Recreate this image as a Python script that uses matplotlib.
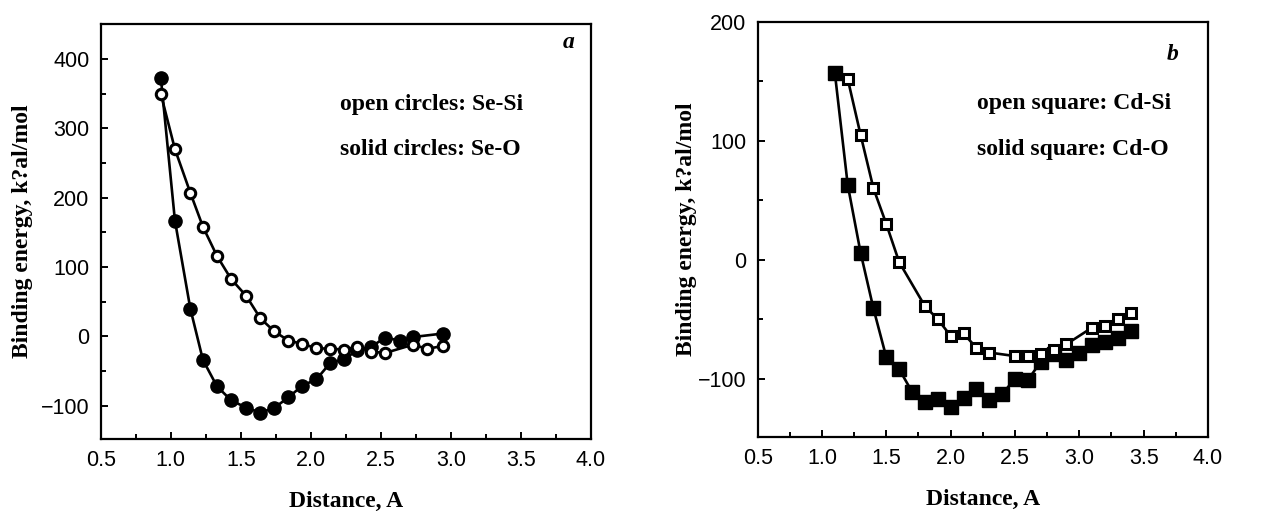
import matplotlib
matplotlib.use("Agg")
import matplotlib.pyplot as plt
from matplotlib.ticker import MultipleLocator

# panel a: Se-Si (open circles), Se-O (solid circles)
se_si_x = [0.93, 1.03, 1.14, 1.23, 1.33, 1.43, 1.54, 1.64, 1.74, 1.84,
           1.94, 2.04, 2.14, 2.24, 2.33, 2.43, 2.53, 2.73, 2.83, 2.94]
se_si_y = [349, 270, 207, 158, 116, 83, 58, 26, 7, -6,
           -11, -17, -18, -19, -15, -22, -24, -12, -18, -14]
se_o_x = [0.93, 1.03, 1.14, 1.23, 1.33, 1.43, 1.54, 1.64, 1.74, 1.84,
          1.94, 2.04, 2.14, 2.24, 2.33, 2.43, 2.53, 2.64, 2.73, 2.94]
se_o_y = [372, 167, 40, -34, -72, -92, -103, -110, -103, -88,
          -71, -62, -38, -33, -20, -15, -2, -6, -1, 4]

# panel b: Cd-Si (open squares), Cd-O (solid squares)
cd_si_x = [1.2, 1.3, 1.4, 1.5, 1.6, 1.8, 1.9, 2.0, 2.1, 2.2,
           2.3, 2.5, 2.6, 2.7, 2.8, 2.9, 3.1, 3.2, 3.3, 3.4]
cd_si_y = [152, 105, 60, 30, -2, -39, -50, -64, -62, -74,
           -78, -81, -81, -79, -76, -71, -57, -56, -50, -45]
cd_o_x = [1.1, 1.2, 1.3, 1.4, 1.5, 1.6, 1.7, 1.8, 1.9, 2.0, 2.1, 2.2,
          2.3, 2.4, 2.5, 2.6, 2.7, 2.8, 2.9, 3.0, 3.1, 3.2, 3.3, 3.4]
cd_o_y = [157, 63, 6, -41, -82, -92, -111, -120, -117, -124, -116, -109,
          -118, -113, -100, -101, -86, -79, -84, -78, -72, -69, -66, -60]

serif = "Liberation Serif"
plt.rcParams["font.family"] = "Liberation Sans"
plt.rcParams["axes.linewidth"] = 1.6

fig = plt.figure(figsize=(12.71, 5.12), dpi=100)
ax_a = fig.add_axes([0.0792, 0.1426, 0.3858, 0.810])
ax_b = fig.add_axes([0.5961, 0.1465, 0.3543, 0.811])


def style(ax, ylim, lab_x):
    ax.set_xlim(0.5, 4.0)
    ax.set_ylim(*ylim)
    ax.xaxis.set_major_locator(MultipleLocator(0.5))
    ax.xaxis.set_minor_locator(MultipleLocator(0.25))
    ax.yaxis.set_major_locator(MultipleLocator(100))
    ax.yaxis.set_minor_locator(MultipleLocator(50))
    ax.tick_params(which="both", direction="in", top=False, right=False,
                   width=1.4, labelsize=15.5, pad=8)
    ax.tick_params(which="major", length=5)
    ax.tick_params(which="minor", length=3.5)
    ax.set_xlabel("Distance, A", fontfamily=serif, fontweight="bold", fontsize=17)
    ax.set_ylabel("Binding energy, k?al/mol", fontfamily=serif,
                  fontweight="bold", fontsize=17)
    ax.xaxis.set_label_coords(0.5, -0.125)
    ax.yaxis.set_label_coords(lab_x, 0.5)


def note(ax, x, y, s, **kw):
    ax.text(x, y, s, transform=ax.transAxes, fontfamily=serif,
            fontweight="bold", fontsize=17, va="center", **kw)


# panel a
ax_a.plot(se_si_x, se_si_y, color="black", lw=1.9, marker="o", ms=7.5,
          mfc="white", mec="black", mew=2.2, zorder=3)
ax_a.plot(se_o_x, se_o_y, color="black", lw=1.9, marker="o", ms=9.5,
          mfc="black", mec="black", zorder=2)
style(ax_a, (-148, 450), -0.138)
note(ax_a, 0.488, 0.806, "open circles: Se-Si", ha="left")
note(ax_a, 0.488, 0.699, "solid circles: Se-O", ha="left")
note(ax_a, 0.955, 0.955, "a", ha="center", fontstyle="italic")

# panel b
ax_b.plot(cd_si_x, cd_si_y, color="black", lw=1.9, marker="s", ms=7,
          mfc="white", mec="black", mew=2.2, zorder=3)
ax_b.plot(cd_o_x, cd_o_y, color="black", lw=1.9, marker="s", ms=9.5,
          mfc="black", mec="black", zorder=2)
style(ax_b, (-149, 200), -0.135)
note(ax_b, 0.487, 0.804, "open square: Cd-Si", ha="left")
note(ax_b, 0.487, 0.693, "solid square: Cd-O", ha="left")
note(ax_b, 0.922, 0.92, "b", ha="center", fontstyle="italic")

fig.savefig("out.png", dpi=100)
